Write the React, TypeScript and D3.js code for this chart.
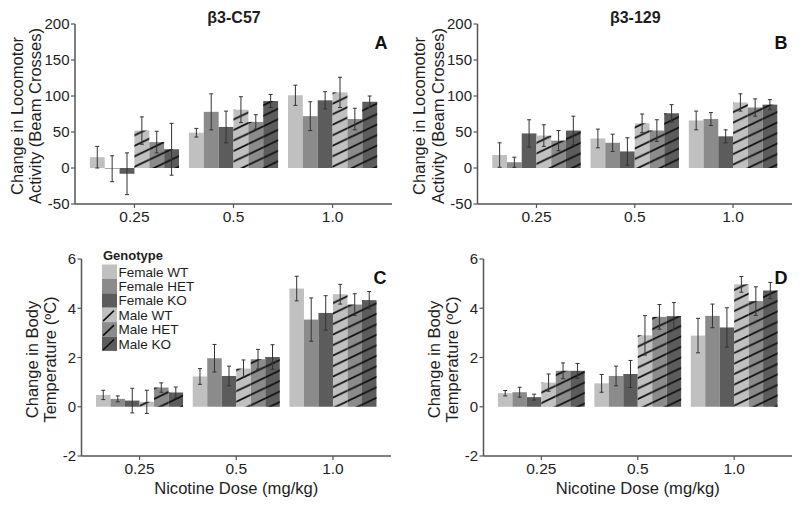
import React from "react";
import * as d3 from "d3";

const doses = ["0.25", "0.5", "1.0"];
const genotypes = ["Female WT", "Female HET", "Female KO", "Male WT", "Male HET", "Male KO"];
const genotypeFill = ["#c0c0c0", "#8b8b8b", "#5c5c5c", "#c0c0c0", "#8b8b8b", "#5c5c5c"];
const genotypeHatched = [false, false, false, true, true, true];

const locoTicks = [-50, 0, 50, 100, 150, 200];
const tempTicks = [-2, 0, 2, 4, 6];

// Panel A: β3-C57 locomotor
const locoC57Mean = [
  [15, -1, -8, 52, 36, 26],
  [49, 78, 57, 81, 64, 93],
  [101, 72, 94, 105, 68, 92],
];
const locoC57Err = [
  [15, 18, 29, 19, 15, 36],
  [6, 25, 22, 18, 10, 9],
  [14, 20, 12, 21, 15, 8],
];
// Panel B: β3-129 locomotor
const loco129Mean = [
  [18, 8, 48, 45, 38, 52],
  [41, 35, 23, 62, 52, 76],
  [66, 68, 44, 91, 84, 88],
];
const loco129Err = [
  [17, 7, 19, 15, 14, 20],
  [13, 12, 19, 13, 15, 12],
  [13, 9, 9, 12, 12, 7],
];
// Panel C: β3-C57 temperature
const tempC57Mean = [
  [0.48, 0.32, 0.25, 0.2, 0.78, 0.58],
  [1.23, 1.97, 1.25, 1.55, 1.93, 2.02],
  [4.8, 3.54, 3.81, 4.57, 4.15, 4.33],
];
const tempC57Err = [
  [0.19, 0.12, 0.5, 0.47, 0.19, 0.22],
  [0.32, 0.56, 0.4, 0.35, 0.4, 0.5],
  [0.5, 0.88, 0.7, 0.4, 0.44, 0.35],
];
// Panel D: β3-129 temperature
const temp129Mean = [
  [0.55, 0.59, 0.39, 0.98, 1.46, 1.46],
  [0.95, 1.25, 1.33, 2.9, 3.65, 3.68],
  [2.89, 3.69, 3.22, 4.97, 4.29, 4.72],
];
const temp129Err = [
  [0.11, 0.2, 0.12, 0.35, 0.32, 0.3],
  [0.36, 0.4, 0.55, 0.8, 0.5, 0.55],
  [0.7, 0.48, 0.8, 0.32, 0.58, 0.33],
];

type Panel = {
  id: string;
  mean: number[][];
  err: number[][];
  left: number;
  right: number;
  top: number;
  bottom: number;
  domain: [number, number];
  ticks: number[];
  title?: string;
  ylab: string[];
  ylabOff: [number, number];
  xlab: boolean;
  legend: boolean;
};

const panels: Panel[] = [
  { id: "A", mean: locoC57Mean, err: locoC57Err, left: 75, right: 392, top: 24, bottom: 204, domain: [-50, 200], ticks: locoTicks, title: "β3-C57", ylab: ["Change in Locomotor", "Activity (Beam Crosses)"], ylabOff: [58.5, 40], xlab: false, legend: false },
  { id: "B", mean: loco129Mean, err: loco129Err, left: 477.5, right: 792, top: 24, bottom: 204, domain: [-50, 200], ticks: locoTicks, title: "β3-129", ylab: ["Change in Locomotor", "Activity (Beam Crosses)"], ylabOff: [58.5, 40], xlab: false, legend: false },
  { id: "C", mean: tempC57Mean, err: tempC57Err, left: 81.5, right: 391, top: 259, bottom: 456, domain: [-2, 6], ticks: tempTicks, ylab: ["Change in Body", "Temperature (ºC)"], ylabOff: [49.5, 31.5], xlab: true, legend: true },
  { id: "D", mean: temp129Mean, err: temp129Err, left: 483.5, right: 792, top: 259, bottom: 456, domain: [-2, 6], ticks: tempTicks, ylab: ["Change in Body", "Temperature (ºC)"], ylabOff: [49.5, 31.5], xlab: true, legend: false },
];

const FONT = "'Liberation Sans', Arial, sans-serif";
const AXIS = "#555";
const TXT = "#1e1e1e";
const HW = 22;
const HH = 10.5;

function PanelView({ p }: { p: Panel }) {
  const x = d3.scaleBand<string>().domain(doses).range([p.left, p.right]).paddingInner(0.1).paddingOuter(0.15);
  const xi = d3.scaleBand<string>().domain(genotypes).range([0, x.bandwidth()]).padding(0);
  const y = d3.scaleLinear().domain(p.domain).range([p.bottom, p.top]);
  const midY = (p.top + p.bottom) / 2 + 2;
  const midX = (p.left + p.right) / 2;
  const bw = xi.bandwidth();
  return (
    <g>
      {p.mean.map((row, di) =>
        row.map((v, gi) => {
          const bx = (x(doses[di]) as number) + (xi(genotypes[gi]) as number);
          const y0 = y(0);
          const yv = y(v);
          const ry = Math.min(y0, yv);
          const rh = Math.abs(y0 - yv);
          return (
            <g key={`b${di}-${gi}`}>
              <rect x={bx} y={ry} width={bw} height={rh} fill={genotypeFill[gi]} />
              {genotypeHatched[gi] && <rect x={bx} y={ry} width={bw} height={rh} fill={`url(#hatch)`} />}
            </g>
          );
        })
      )}
      {p.mean.map((row, di) =>
        row.map((v, gi) => {
          const cx = (x(doses[di]) as number) + (xi(genotypes[gi]) as number) + bw / 2;
          const e = p.err[di][gi];
          const yt = y(v + e);
          const yb = y(v - e);
          return (
            <g key={`e${di}-${gi}`} stroke="#333" strokeWidth={1}>
              <line x1={cx} x2={cx} y1={yt} y2={yb} />
              <line x1={cx - 2} x2={cx + 2} y1={yt} y2={yt} />
              <line x1={cx - 2} x2={cx + 2} y1={yb} y2={yb} />
            </g>
          );
        })
      )}
      {/* axes */}
      <line x1={p.left} x2={p.left} y1={p.top} y2={p.bottom} stroke={AXIS} strokeWidth={1.5} />
      <line x1={p.left} x2={p.right} y1={p.bottom} y2={p.bottom} stroke={AXIS} strokeWidth={1.5} />
      {p.ticks.map((t) => (
        <g key={`yt${t}`}>
          <line x1={p.left - 4} x2={p.left} y1={y(t)} y2={y(t)} stroke={AXIS} strokeWidth={1.2} />
          <text x={p.left - 5.5} y={y(t)} dy="0.36em" textAnchor="end" fontSize={15} fill={TXT} fontFamily={FONT}>
            {t}
          </text>
        </g>
      ))}
      {doses.map((d) => {
        const cx = (x(d) as number) + x.bandwidth() / 2;
        return (
          <g key={`xt${d}`}>
            <line x1={cx} x2={cx} y1={p.bottom} y2={p.bottom + 4} stroke={AXIS} strokeWidth={1.2} />
            <text x={cx} y={p.bottom + 17.5} textAnchor="middle" fontSize={15.5} fill={TXT} fontFamily={FONT}>
              {d}
            </text>
          </g>
        );
      })}
      {p.ylab.map((s, i) => (
        <text
          key={`yl${i}`}
          transform={`translate(${p.left - p.ylabOff[i]},${midY}) rotate(-90)`}
          textAnchor="middle"
          dominantBaseline="central"
          fontSize={16.5}
          fill={TXT}
          fontFamily={FONT}
        >
          {s}
        </text>
      ))}
      {p.xlab && (
        <text x={midX} y={494} textAnchor="middle" fontSize={16.6} fill={TXT} fontFamily={FONT}>
          Nicotine Dose (mg/kg)
        </text>
      )}
      {p.title && (
        <text x={midX + 0.5} y={22.5} textAnchor="middle" fontSize={16} fontWeight="bold" fill={TXT} fontFamily={FONT}>
          {p.title}
        </text>
      )}
      <text x={p.right - 11} y={p.top + 25} textAnchor="middle" fontSize={18} fontWeight="bold" fill="#111" fontFamily={FONT}>
        {p.id}
      </text>
      {p.legend && (
        <g>
          <text x={103} y={259.5} fontSize={13} fontWeight="bold" fill={TXT} fontFamily={FONT}>
            Genotype
          </text>
          {genotypes.map((g, i) => {
            const sy = 264.5 + i * 14.4;
            return (
              <g key={`lg${i}`}>
                <rect x={102} y={sy} width={15} height={14.4} fill={genotypeFill[i]} />
                {genotypeHatched[i] && (
                  <line x1={103} y1={sy + 13.5} x2={114} y2={sy + 3} stroke="#111" strokeWidth={1.6} />
                )}
                <text x={118.5} y={sy + 7.2} dy="0.36em" fontSize={13.5} fill={TXT} fontFamily={FONT}>
                  {g}
                </text>
              </g>
            );
          })}
        </g>
      )}
    </g>
  );
}

export default function App() {
  return (
    <svg width={800} height={505} style={{ position: "absolute", left: 0, top: 0, background: "#fff" }}>
      <defs>
        <pattern id="hatch" patternUnits="userSpaceOnUse" width={HW} height={HH}>
          <path
            d={`M${-HW},${2 * HH} L${2 * HW},${-HH} M${-HW},${HH} L${HW},${-HH} M0,${2 * HH} L${2 * HW},0`}
            stroke="#111"
            strokeWidth={1.8}
            fill="none"
          />
        </pattern>
      </defs>
      <rect x={0} y={0} width={800} height={505} fill="#fff" />
      {panels.map((p) => (
        <PanelView key={p.id} p={p} />
      ))}
    </svg>
  );
}
